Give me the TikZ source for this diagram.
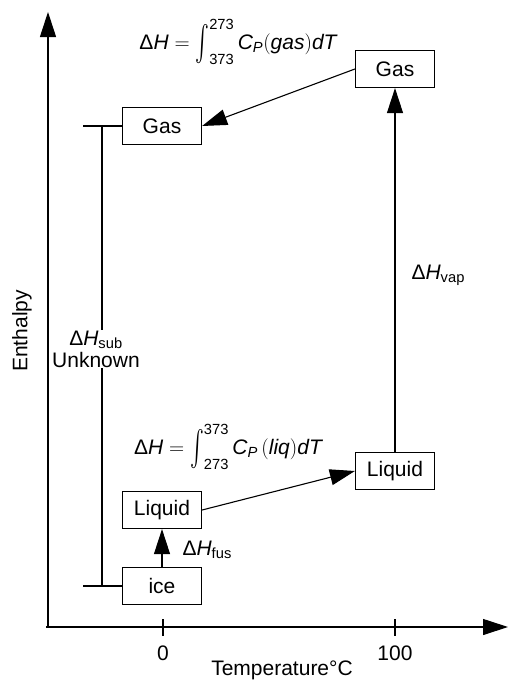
\documentclass[tikz,border=0pt]{standalone}
\usepackage{fix-cm}
\usepackage{amsmath}
\usepackage{graphicx}
\usepackage{fontspec}
\setmainfont{Liberation Sans}
\usetikzlibrary{arrows.meta}

\newcommand{\bigint}{\mathop{\vcenter{\hbox{\scalebox{1}[1.7]{$\int$}}}}\nolimits}

\tikzset{
    phase/.style={draw, line width=1.2pt, minimum width=79pt, minimum height=37pt, inner sep=0pt},
    tip/.style={-{Triangle[length=25pt,width=16pt]}, line width=1.1pt},
    lbl/.style={inner sep=0pt}
}

\begin{document}
\begin{tikzpicture}[x=1pt, y=-1pt, line width=1.1pt, font=\fontsize{21}{25}\selectfont]
    \useasboundingbox (0,0) rectangle (508,680);
    % axes
    \coordinate (org) at (48,627);
    \coordinate (ytop) at (48,12);
    \coordinate (xleft) at (46,627);
    \coordinate (xright) at (508,627);
    \draw[tip] (org) -- (ytop);
    \draw[tip] (xleft) -- (xright);
    \draw (163,619) -- (163,636);
    \draw (395,619) -- (395,636);
    \node[lbl] (t0) at (163,653) {0};
    \node[lbl] (t100) at (395,653) {100};
    \node[lbl] (xlab) at (282,670) {Temperature°C};
    \node[lbl, rotate=90] (ylab) at (22,331) {Enthalpy};

    % phases
    \node[phase] (gasR) at (395,69) {Gas};
    \node[phase] (gasL) at (162,126) {Gas};
    \node[phase] (liqR) at (395,471) {Liquid};
    \node[phase] (liqL) at (162,510) {Liquid};
    \node[phase] (ice) at (162,586) {ice};

    % steps
    \draw[tip] (ice.north) -- (liqL.south);
    \draw[tip] (liqL.east) -- (liqR.west);
    \draw[tip] (liqR.north) -- (gasR.south);
    \draw[tip] (gasR.west) -- (gasL.east);

    % labels
    \node[lbl] (cpgas) at (238,42) {$\text{Δ}\textit{H} = \bigint_{\text{373}}^{\text{273}}\textit{C}_{\textit{P}}(\textit{gas})\textit{dT}$};
    \node[lbl] (cpliq) at (228,447) {$\text{Δ}\textit{H} = \bigint_{\text{273}}^{\text{373}}\textit{C}_{\textit{P}}\,(\textit{liq})\textit{dT}$};
    \node[lbl, anchor=west] (vap) at (411,275) {$\text{Δ}\textit{H}_{\text{vap}}$};
    \node[lbl, anchor=west] (fus) at (182,550) {$\text{Δ}\textit{H}_{\text{fus}}$};
    \node[lbl, align=center] (sub) at (96,349) {$\text{Δ}\textit{H}_{\text{sub}}$\\[-3pt]Unknown};

    % sublimation bracket
    \coordinate (bt) at (102,126);
    \coordinate (bb) at (102,586);
    \draw (83,126) -- (gasL.west);
    \draw (83,586) -- (ice.west);
    \draw (bt) -- (bt |- sub.north);
    \draw (bb) -- (bb |- sub.south);
\end{tikzpicture}
\end{document}
